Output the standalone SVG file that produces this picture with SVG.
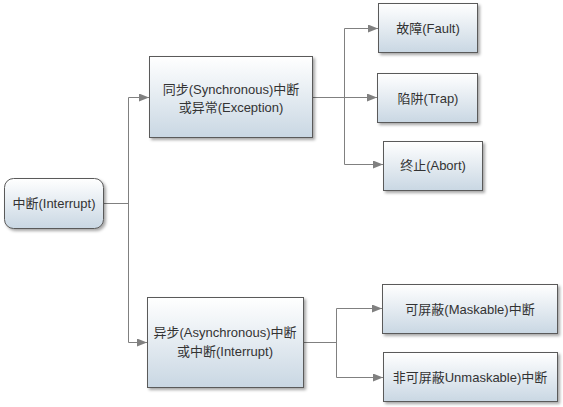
<svg xmlns="http://www.w3.org/2000/svg" width="563" height="407" viewBox="0 0 563 407">
<defs>
<linearGradient id="g" x1="0" y1="0" x2="0" y2="1">
<stop offset="0" stop-color="#ffffff"/>
<stop offset="1" stop-color="#c9d7e3"/>
</linearGradient>
<filter id="sh" x="-10%" y="-10%" width="130%" height="140%">
<feDropShadow dx="2" dy="2" stdDeviation="1.5" flood-color="#000" flood-opacity="0.35"/>
</filter>
<marker id="ah" viewBox="0 0 10 8" refX="10" refY="4" markerWidth="10" markerHeight="8" markerUnits="userSpaceOnUse" orient="auto">
<path d="M0,0 L10,4 L0,8 Z" fill="#808080"/>
</marker>
</defs>
<style>
.box{fill:url(#g);stroke:#5a5a5a;stroke-width:1;filter:url(#sh)}
.t{font-family:"Liberation Sans","Noto Sans CJK SC",sans-serif;font-size:13px;fill:#333;text-anchor:middle;dominant-baseline:central}
.c{fill:none;stroke:#808080;stroke-width:1}
.a{marker-end:url(#ah)}
</style>
<rect width="563" height="407" fill="#fff"/>
<g id="connectors">
<path class="c" d="M103.5,203.5 H128.5 M128.5,97.5 V342.5"/>
<path class="c a" d="M128.5,97.5 H149"/>
<path class="c a" d="M128.5,342.5 H147"/>
<path class="c" d="M312,97.5 H344.5 M344.5,28.5 V164.5"/>
<path class="c a" d="M344.5,28.5 H378"/>
<path class="c a" d="M344.5,97.5 H377"/>
<path class="c a" d="M344.5,164.5 H383"/>
<path class="c" d="M303,342.5 H336.5 M336.5,308.5 V377.5"/>
<path class="c a" d="M336.5,308.5 H382"/>
<path class="c a" d="M336.5,377.5 H383"/>
</g>
<g id="root">
<rect class="box" x="4.5" y="178.5" width="99" height="50" rx="9"/>
<text class="t" x="54" y="203.5">中断(Interrupt)</text>
</g>
<g id="sync">
<rect class="box" x="149.5" y="56.5" width="163" height="81"/>
<text class="t" x="231" y="89.5">同步(Synchronous)中断</text>
<text class="t" x="231" y="107">或异常(Exception)</text>
</g>
<g id="fault">
<rect class="box" x="378.5" y="3.5" width="99" height="49"/>
<text class="t" x="428" y="28.5">故障(Fault)</text>
</g>
<g id="trap">
<rect class="box" x="377.5" y="73.5" width="100" height="49"/>
<text class="t" x="428" y="98">陷阱(Trap)</text>
</g>
<g id="abort">
<rect class="box" x="383.5" y="141.5" width="99" height="49"/>
<text class="t" x="433" y="165">终止(Abort)</text>
</g>
<g id="async">
<rect class="box" x="147.5" y="297.5" width="156" height="90"/>
<text class="t" x="225" y="332">异步(Asynchronous)中断</text>
<text class="t" x="225" y="351">或中断(Interrupt)</text>
</g>
<g id="maskable">
<rect class="box" x="382.5" y="284.5" width="175" height="49"/>
<text class="t" x="470" y="309">可屏蔽(Maskable)中断</text>
</g>
<g id="unmaskable">
<rect class="box" x="383.5" y="352.5" width="174" height="49"/>
<text class="t" x="470" y="377">非可屏蔽Unmaskable)中断</text>
</g>
</svg>
